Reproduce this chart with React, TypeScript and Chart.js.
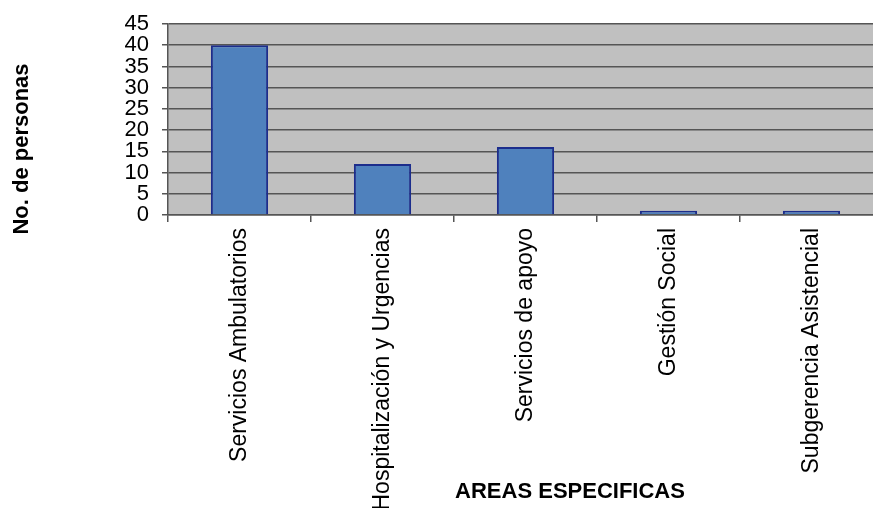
import React, { useEffect, useRef } from "react";
import { Chart, registerables } from "chart.js";

Chart.register(...registerables);

const categories = [
  "Servicios Ambulatorios",
  "Hospitalización y Urgencias",
  "Servicios de apoyo",
  "Gestión Social",
  "Subgerencia Asistencial",
];
const personas = [40, 12, 16, 1, 1];
const yTitle = "No. de personas";
const xTitle = "AREAS ESPECIFICAS";
const yMin = 0;
const yMax = 45;
const yStep = 5;

const FONT = "'Liberation Sans', Arial, Helvetica, sans-serif";

export default function App() {
  const ref = useRef<HTMLCanvasElement | null>(null);

  useEffect(() => {
    if (!ref.current) return;
    const bgPlugin = {
      id: "plotBg",
      beforeDraw(chart: any) {
        const { ctx, chartArea } = chart;
        ctx.save();
        ctx.fillStyle = "#c0c0c0";
        ctx.fillRect(chartArea.left, chartArea.top, chartArea.right - chartArea.left, chartArea.bottom - chartArea.top);
        ctx.restore();
      },
    };
    const titlePlugin = {
      id: "titles",
      afterDraw(chart: any) {
        const { ctx } = chart;
        ctx.save();
        ctx.fillStyle = "#000";
        ctx.font = `bold 22px ${FONT}`;
        ctx.textAlign = "center";
        ctx.textBaseline = "middle";
        ctx.fillText(xTitle, 570, 492);
        ctx.translate(22, 149);
        ctx.rotate(-Math.PI / 2);
        ctx.fillText(yTitle, 0, 0);
        ctx.restore();
      },
    };
    const chart = new Chart(ref.current, {
      type: "bar",
      data: {
        labels: categories,
        datasets: [
          {
            data: personas,
            backgroundColor: "#4f81bd",
            borderColor: "#1c2d8c",
            borderWidth: 2,
            barPercentage: 0.4,
            categoryPercentage: 1,
          },
        ],
      },
      options: {
        animation: false,
        responsive: false,
        maintainAspectRatio: false,
        layout: { padding: { top: 22, right: 0, left: 0, bottom: 0 } },
        plugins: { legend: { display: false }, tooltip: { enabled: false } },
        scales: {
          x: {
            afterFit(scale: any) {
              scale.height = 293;
            },
            grid: {
              display: true,
              drawOnChartArea: false,
              drawTicks: true,
              tickLength: 7,
              color: "#555",
              lineWidth: 1.5,
              offset: true,
            },
            border: { display: true, color: "#555", width: 1.5 },
            ticks: {
              autoSkip: false,
              maxRotation: 90,
              minRotation: 90,
              padding: 6,
              color: "#000",
              font: { family: FONT, size: 23 },
            },
          },
          y: {
            min: yMin,
            max: yMax,
            afterFit(scale: any) {
              scale.width = 168;
            },
            grid: {
              color: "#555",
              lineWidth: 1.5,
              tickLength: 6,
              drawTicks: true,
            },
            border: { display: true, color: "#555", width: 1.5 },
            ticks: {
              stepSize: yStep,
              autoSkip: false,
              padding: 13,
              color: "#000",
              font: { family: FONT, size: 22, lineHeight: 1 },
            },
          },
        },
      },
      plugins: [bgPlugin, titlePlugin],
    });
    return () => chart.destroy();
  }, []);

  return (
    <div style={{ position: "fixed", left: 0, top: 0, width: 873, height: 508, overflow: "hidden", background: "#fff" }}>
      <canvas ref={ref} width={883} height={508} style={{ display: "block", width: 883, height: 508 }} />
    </div>
  );
}
